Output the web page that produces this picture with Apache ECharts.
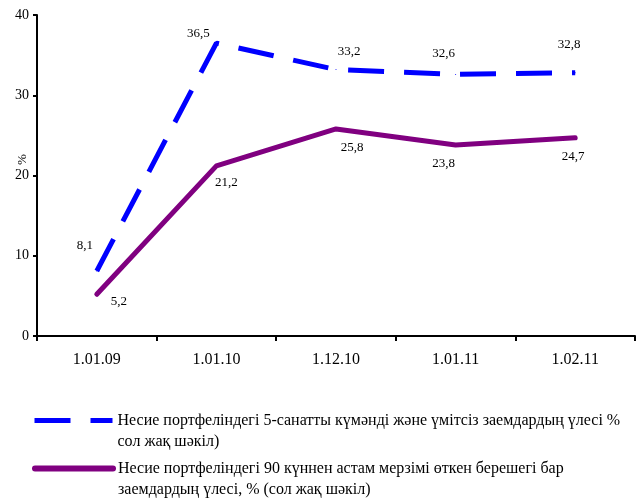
<!DOCTYPE html>
<html>
<head>
<meta charset="utf-8">
<script src="https://cdn.jsdelivr.net/npm/echarts@6/dist/echarts.min.js"></script>
<style>
html,body{margin:0;padding:0;background:#fff;}
#chart{width:643px;height:499px;}
</style>
</head>
<body>
<div id="chart"></div>
<script>
// ---- data ----
const categories = ['1.01.09', '1.01.10', '1.12.10', '1.01.11', '1.02.11'];
const doubtfulShare = [8.1, 36.5, 33.2, 32.6, 32.8];
const overdueShare = [5.2, 21.2, 25.8, 23.8, 24.7];
const yTickValues = [0, 10, 20, 30, 40];
const doubtfulName = ['Несие портфеліндегі 5-санатты күмәнді және үмітсіз заемдардың үлесі %', 'сол жақ шәкіл)'];
const overdueName = ['Несие портфеліндегі 90 күннен астам мерзімі өткен берешегі бар', 'заемдардың үлесі, % (сол жақ шәкіл)'];

// ---- styling (label placement) ----
const doubtfulLabelOffsets = [[-12, -25], [-18, -10], [13, -18], [-12, -21], [-6, -28]];
const overdueLabelOffsets = [[22, 7], [10, 17], [16, 19], [-12, 19], [-2, 19]];

const FONT = '"Liberation Serif", "Times New Roman", serif';
const fmt = v => v.toFixed(1).replace('.', ',');
const BLUE = '#0000ff';
const PURPLE = '#800080';

const chart = echarts.init(document.getElementById('chart'), null, {renderer: 'canvas'});

function mkData(vals, offs) {
  return vals.map((v, i) => ({value: v, label: {offset: offs[i]}}));
}

const legendBase = {
  orient: 'vertical',
  left: 32,
  padding: 0,
  itemWidth: 78,
  itemHeight: 8,
  selectedMode: false,
  itemStyle: {opacity: 0},
  textStyle: {fontFamily: FONT, fontSize: 16, color: '#000', lineHeight: 21},
  // leading blank line keeps the first text line level with the icon
  formatter: n => '\n' + n
};

const option = {
  animation: false,
  backgroundColor: '#fff',
  grid: {left: 37, right: 8, top: 15, bottom: 163, containLabel: false, outerBoundsMode: 'none'},
  legend: [
    Object.assign({}, legendBase, {
      top: 389, data: [doubtfulName.join('\n')],
      lineStyle: {width: 5}
    }),
    Object.assign({}, legendBase, {
      top: 437, data: [overdueName.join('\n')],
      lineStyle: {width: 6}
    })
  ],
  xAxis: {
    type: 'category',
    data: categories,
    boundaryGap: true,
    axisLine: {lineStyle: {color: '#000', width: 2}},
    axisTick: {show: true, length: 5, alignWithLabel: false, lineStyle: {color: '#000', width: 2}},
    axisLabel: {fontFamily: FONT, fontSize: 16, color: '#000', margin: 16},
    splitLine: {show: false}
  },
  yAxis: {
    type: 'value',
    min: yTickValues[0],
    max: yTickValues[yTickValues.length - 1],
    interval: yTickValues[1] - yTickValues[0],
    name: '%',
    nameLocation: 'middle',
    nameRotate: 90,
    nameGap: 8,
    nameMoveOverlap: false,
    nameTextStyle: {fontFamily: FONT, fontSize: 13, color: '#000', padding: [0, 0, 0, 32]},
    axisLine: {show: true, lineStyle: {color: '#000', width: 2}},
    axisTick: {show: true, length: 4, lineStyle: {color: '#000', width: 2}},
    axisLabel: {fontFamily: FONT, fontSize: 14, color: '#000', margin: 8},
    splitLine: {show: false}
  },
  series: [
    {
      name: doubtfulName.join('\n'),
      type: 'line',
      data: mkData(doubtfulShare, doubtfulLabelOffsets),
      symbol: 'circle',
      symbolSize: 1,
      itemStyle: {color: BLUE},
      lineStyle: {color: BLUE, width: 5, type: [36, 20], cap: 'butt'},
      label: {show: true, position: 'inside', fontFamily: FONT, fontSize: 13, color: '#000',
        formatter: p => fmt(p.value)},
      emphasis: {disabled: true},
      z: 3
    },
    {
      name: overdueName.join('\n'),
      type: 'line',
      data: mkData(overdueShare, overdueLabelOffsets),
      symbol: 'circle',
      symbolSize: 1,
      itemStyle: {color: PURPLE},
      lineStyle: {color: PURPLE, width: 5, cap: 'round', join: 'round'},
      label: {show: true, position: 'inside', fontFamily: FONT, fontSize: 13, color: '#000',
        formatter: p => fmt(p.value)},
      emphasis: {disabled: true},
      z: 2
    }
  ]
};
chart.setOption(option);
</script>
</body>
</html>
